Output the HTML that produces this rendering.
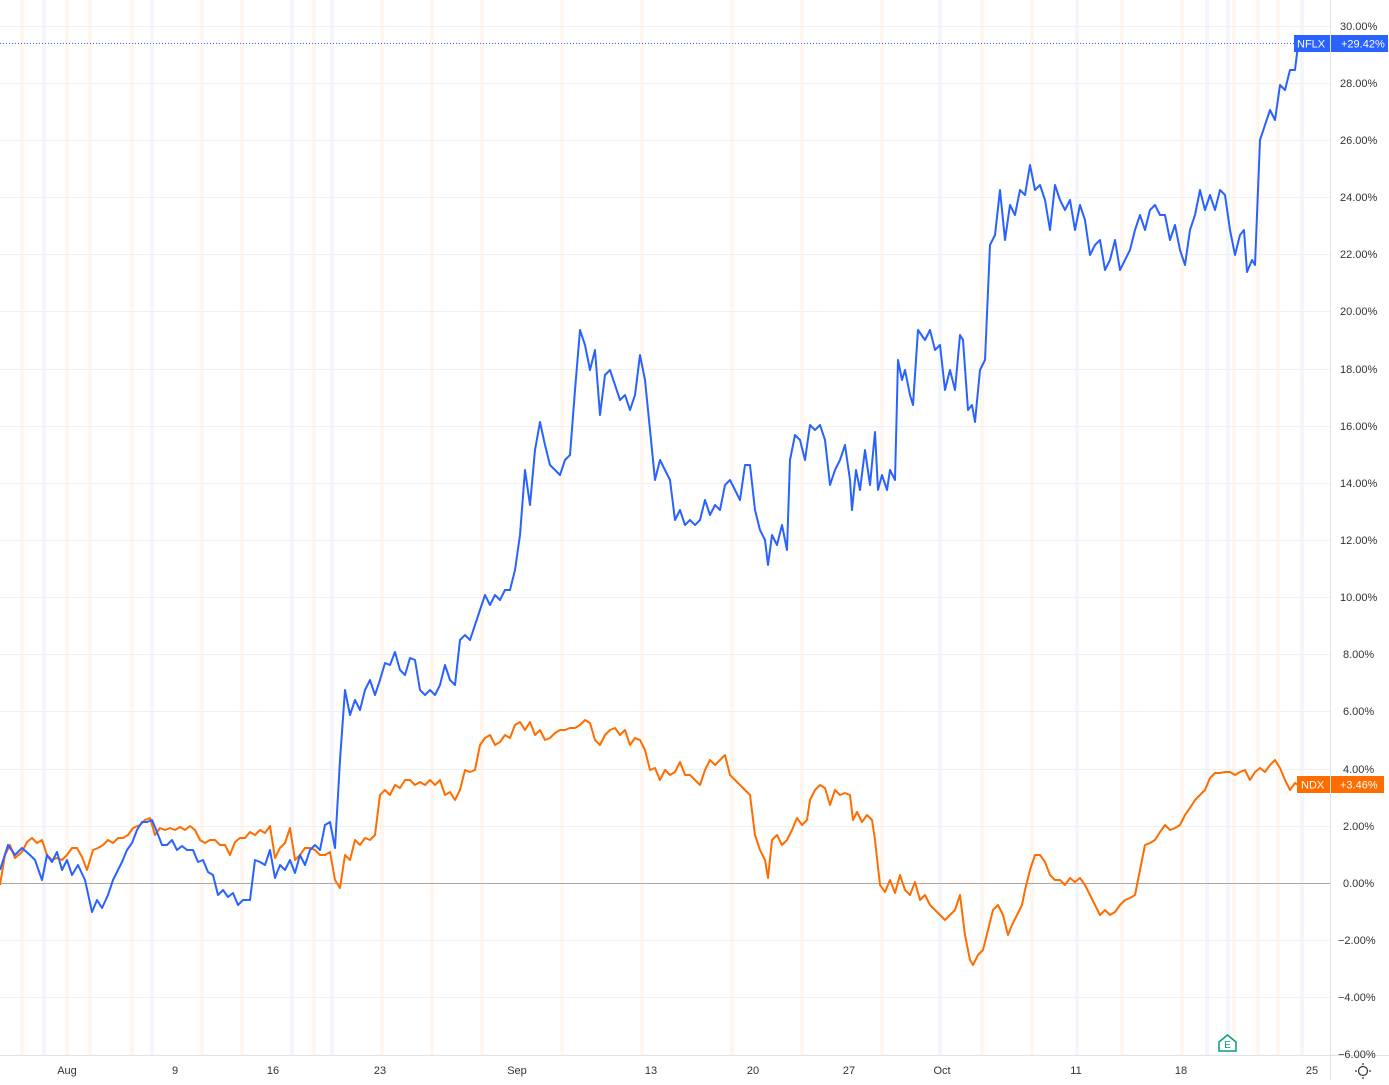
<!DOCTYPE html>
<html><head><style>
body{margin:0;background:#fff;font-family:"Liberation Sans",sans-serif;}
svg text{font-family:"Liberation Sans",sans-serif;font-size:11px;fill:#333;}
</style></head><body>
<svg width="1389" height="1080" xmlns="http://www.w3.org/2000/svg">
<g id="stripes" opacity="0.5">
<rect x="20" y="0" width="4" height="1055" fill="#fff1e0"/>
<rect x="42" y="0" width="4" height="1055" fill="#e8eefc"/>
<rect x="65" y="0" width="4" height="1055" fill="#fff1e0"/>
<rect x="88" y="0" width="4" height="1055" fill="#fff1e0"/>
<rect x="130" y="0" width="4" height="1055" fill="#fff1e0"/>
<rect x="150" y="0" width="4" height="1055" fill="#e8eefc"/>
<rect x="200" y="0" width="4" height="1055" fill="#fff1e0"/>
<rect x="240" y="0" width="4" height="1055" fill="#fff1e0"/>
<rect x="290" y="0" width="4" height="1055" fill="#e8eefc"/>
<rect x="312" y="0" width="4" height="1055" fill="#fff1e0"/>
<rect x="330" y="0" width="4" height="1055" fill="#e8eefc"/>
<rect x="380" y="0" width="4" height="1055" fill="#fff1e0"/>
<rect x="430" y="0" width="4" height="1055" fill="#fff1e0"/>
<rect x="480" y="0" width="4" height="1055" fill="#fff1e0"/>
<rect x="560" y="0" width="4" height="1055" fill="#fff1e0"/>
<rect x="640" y="0" width="4" height="1055" fill="#fff1e0"/>
<rect x="730" y="0" width="4" height="1055" fill="#fff1e0"/>
<rect x="800" y="0" width="4" height="1055" fill="#fff1e0"/>
<rect x="880" y="0" width="4" height="1055" fill="#fff1e0"/>
<rect x="938" y="0" width="4" height="1055" fill="#e8eefc"/>
<rect x="980" y="0" width="4" height="1055" fill="#fff1e0"/>
<rect x="1030" y="0" width="4" height="1055" fill="#fff1e0"/>
<rect x="1075" y="0" width="4" height="1055" fill="#e8eefc"/>
<rect x="1120" y="0" width="4" height="1055" fill="#fff1e0"/>
<rect x="1180" y="0" width="4" height="1055" fill="#fff1e0"/>
<rect x="1205" y="0" width="4" height="1055" fill="#e8eefc"/>
<rect x="1226" y="0" width="4" height="1055" fill="#e8eefc"/>
<rect x="1232" y="0" width="4" height="1055" fill="#fff1e0"/>
<rect x="1256" y="0" width="4" height="1055" fill="#fff1e0"/>
<rect x="1276" y="0" width="4" height="1055" fill="#fff1e0"/>
<rect x="1300" y="0" width="4" height="1055" fill="#e8eefc"/>
</g>
<g stroke="#f0f0f0" stroke-width="1">
<line x1="0" y1="26.5" x2="1330" y2="26.5"/><line x1="0" y1="83.5" x2="1330" y2="83.5"/><line x1="0" y1="140.5" x2="1330" y2="140.5"/><line x1="0" y1="197.5" x2="1330" y2="197.5"/><line x1="0" y1="254.5" x2="1330" y2="254.5"/><line x1="0" y1="311.5" x2="1330" y2="311.5"/><line x1="0" y1="369.5" x2="1330" y2="369.5"/><line x1="0" y1="426.5" x2="1330" y2="426.5"/><line x1="0" y1="483.5" x2="1330" y2="483.5"/><line x1="0" y1="540.5" x2="1330" y2="540.5"/><line x1="0" y1="597.5" x2="1330" y2="597.5"/><line x1="0" y1="654.5" x2="1330" y2="654.5"/><line x1="0" y1="711.5" x2="1330" y2="711.5"/><line x1="0" y1="769.5" x2="1330" y2="769.5"/><line x1="0" y1="826.5" x2="1330" y2="826.5"/><line x1="0" y1="940.5" x2="1330" y2="940.5"/><line x1="0" y1="997.5" x2="1330" y2="997.5"/>
</g>
<line x1="0" y1="883.5" x2="1330" y2="883.5" stroke="#b0a8a0" stroke-width="1"/>
<line x1="0" y1="43.5" x2="1295" y2="43.5" stroke="#2962ff" stroke-width="1" stroke-dasharray="1,2"/>
<line x1="1330.5" y1="0" x2="1330.5" y2="1080" stroke="#e0e3eb"/>
<line x1="0" y1="1055.5" x2="1389" y2="1055.5" stroke="#e0e3eb"/>
<polyline fill="none" stroke="#ff6d00" stroke-width="2" stroke-linejoin="round" points="0,885 5,855 10,845 15,858 22,852 27,842 32,838 37,843 42,840 47,855 52,860 57,858 62,860 67,855 72,848 77,848 82,857 87,870 93,850 98,848 103,845 108,840 113,843 118,838 123,838 128,835 133,828 140,825 145,820 150,818 155,835 160,828 165,830 170,828 175,830 180,827 185,830 190,826 195,830 200,840 205,843 210,840 215,840 220,845 225,845 230,855 235,842 240,838 245,838 250,832 255,835 260,830 265,833 270,826 275,858 280,848 285,843 290,828 295,860 300,855 305,848 310,848 315,850 320,855 325,855 330,852 335,880 340,888 345,855 350,860 355,840 360,845 365,838 370,840 375,835 380,795 385,790 390,795 395,785 400,788 405,780 410,780 415,785 420,782 425,785 430,780 435,785 440,780 445,795 450,792 455,800 460,790 465,770 470,772 475,770 480,745 485,738 490,735 495,745 500,742 505,735 510,738 515,725 520,722 525,730 530,722 535,735 540,730 545,740 550,738 555,733 560,730 565,730 570,728 575,728 580,725 585,720 590,723 595,740 600,745 605,735 610,730 615,728 620,735 625,730 630,745 635,738 640,740 645,750 650,770 655,768 660,780 665,770 670,775 675,772 680,762 685,775 690,775 695,780 700,785 705,770 710,760 715,765 720,760 725,755 730,775 735,780 740,785 745,790 750,795 755,835 760,850 765,860 768,878 772,840 777,835 782,845 787,840 792,830 797,818 802,825 807,820 810,800 815,790 820,785 825,788 830,805 835,790 840,795 845,793 850,795 853,820 857,812 862,822 867,815 872,820 875,840 880,885 885,892 890,880 895,893 900,875 905,890 910,895 915,882 920,900 925,895 930,905 935,910 940,915 945,920 950,915 955,910 960,895 965,935 970,960 973,965 978,955 983,950 988,930 993,910 998,905 1003,915 1008,935 1012,925 1017,915 1022,905 1025,890 1030,870 1035,855 1040,855 1045,862 1050,875 1055,880 1060,880 1065,885 1070,878 1075,882 1080,878 1085,885 1090,895 1095,905 1100,915 1105,910 1110,915 1115,912 1120,905 1125,900 1130,898 1135,895 1140,870 1145,845 1150,843 1155,840 1160,832 1165,825 1170,830 1175,828 1180,825 1185,815 1190,808 1195,800 1200,795 1205,790 1210,778 1215,773 1220,773 1225,772 1230,772 1235,775 1240,772 1245,770 1250,780 1255,772 1260,768 1265,772 1270,765 1275,760 1280,768 1285,780 1290,790 1295,783 1298,785"/>
<polyline fill="none" stroke="#2962ff" stroke-width="2" stroke-linejoin="round" points="0,870 8,845 15,855 22,848 30,855 35,860 42,880 47,855 52,862 57,852 62,870 67,860 72,875 78,865 85,880 92,912 97,900 102,908 108,895 113,880 118,870 122,862 127,850 132,843 137,830 142,822 147,822 152,820 157,832 162,845 167,845 172,840 177,850 182,846 187,850 193,850 198,862 203,860 208,872 213,875 218,895 223,890 228,897 233,893 238,905 243,900 250,900 255,860 260,862 265,865 270,850 275,878 280,865 285,870 290,860 295,873 300,855 305,865 310,850 315,845 320,850 325,825 330,822 335,848 340,760 345,690 350,715 355,700 360,710 365,690 370,680 375,695 380,680 385,663 390,665 395,652 400,670 405,675 410,658 415,660 420,690 425,695 430,690 435,695 440,685 445,665 450,680 455,685 460,640 465,635 470,640 475,625 480,610 485,595 490,605 495,595 500,600 505,590 510,590 515,570 520,535 525,470 530,505 535,450 540,422 545,445 550,465 555,470 560,475 565,460 570,455 575,390 580,330 585,345 590,370 595,350 600,415 605,375 610,370 615,385 620,400 625,395 630,410 635,395 640,355 645,380 650,430 655,480 660,460 665,470 670,480 675,520 680,510 685,525 690,520 695,525 700,520 705,500 710,515 715,505 720,510 725,485 730,480 735,490 740,500 745,465 750,465 755,510 760,530 765,540 768,565 772,535 777,545 782,525 787,550 790,460 795,435 800,440 805,460 810,425 815,430 820,425 825,440 830,485 835,470 840,460 845,445 850,480 852,510 856,470 860,490 865,450 870,485 875,432 878,490 882,475 887,490 890,470 895,480 898,360 902,380 905,370 910,395 913,405 918,330 925,340 930,330 935,350 940,345 945,390 950,370 955,390 960,335 963,340 968,410 972,405 975,422 980,370 985,360 990,245 995,235 1000,190 1005,240 1010,205 1015,215 1020,190 1025,195 1030,165 1035,190 1040,185 1045,200 1050,230 1055,185 1060,200 1065,210 1070,200 1075,230 1080,205 1085,220 1090,255 1095,245 1100,240 1105,270 1110,260 1115,240 1120,270 1125,260 1130,250 1135,230 1140,215 1145,230 1150,210 1155,205 1160,215 1165,215 1170,240 1175,225 1180,250 1185,265 1190,230 1195,215 1200,190 1205,210 1210,195 1215,210 1220,190 1225,195 1230,230 1235,255 1240,235 1244,230 1247,272 1252,260 1255,265 1260,140 1265,125 1270,110 1275,120 1280,85 1285,90 1290,70 1295,70 1298,45"/>
<g text-anchor="start">
<text x="1340" y="30">30.00%</text><text x="1340" y="87">28.00%</text><text x="1340" y="144">26.00%</text><text x="1340" y="201">24.00%</text><text x="1340" y="258">22.00%</text><text x="1340" y="315">20.00%</text><text x="1340" y="373">18.00%</text><text x="1340" y="430">16.00%</text><text x="1340" y="487">14.00%</text><text x="1340" y="544">12.00%</text><text x="1340" y="601">10.00%</text><text x="1343" y="658">8.00%</text><text x="1343" y="715">6.00%</text><text x="1343" y="773">4.00%</text><text x="1343" y="830">2.00%</text><text x="1343" y="887">0.00%</text><text x="1338" y="944">−2.00%</text><text x="1338" y="1001">−4.00%</text><text x="1338" y="1058">−6.00%</text>
</g>
<rect x="1294" y="35" width="36" height="17" fill="#2962ff"/>
<text x="1297" y="47.5" style="fill:#fff">NFLX</text>
<rect x="1331" y="35" width="57" height="17" fill="#2962ff"/>
<text x="1341" y="47.5" style="fill:#fff">+29.42%</text>
<rect x="1297" y="776" width="33" height="17" fill="#ff6d00"/>
<text x="1301" y="788.5" style="fill:#fff">NDX</text>
<rect x="1331" y="776" width="53" height="17" fill="#ff6d00"/>
<text x="1340" y="788.5" style="fill:#fff">+3.46%</text>
<g text-anchor="middle">
<text x="67" y="1074">Aug</text><text x="175" y="1074">9</text><text x="273" y="1074">16</text><text x="380" y="1074">23</text><text x="517" y="1074">Sep</text><text x="651" y="1074">13</text><text x="753" y="1074">20</text><text x="849" y="1074">27</text><text x="942" y="1074">Oct</text><text x="1076" y="1074">11</text><text x="1181" y="1074">18</text><text x="1312" y="1074">25</text>
</g>
<path d="M1219,1042 L1219,1043 L1219,1051 L1236,1051 L1236,1042 L1227.5,1035 Z" fill="#fff" stroke="#089981" stroke-width="1.5"/>
<text x="1227.5" y="1048" text-anchor="middle" style="fill:#089981;font-size:10px">E</text>
<circle cx="1363" cy="1071" r="4.5" fill="none" stroke="#333" stroke-width="1.2"/>
<g stroke="#333" stroke-width="1.2"><line x1="1363" y1="1063" x2="1363" y2="1065"/><line x1="1363" y1="1077" x2="1363" y2="1079"/><line x1="1355" y1="1071" x2="1357" y2="1071"/><line x1="1369" y1="1071" x2="1371" y2="1071"/></g>
</svg>
</body></html>
